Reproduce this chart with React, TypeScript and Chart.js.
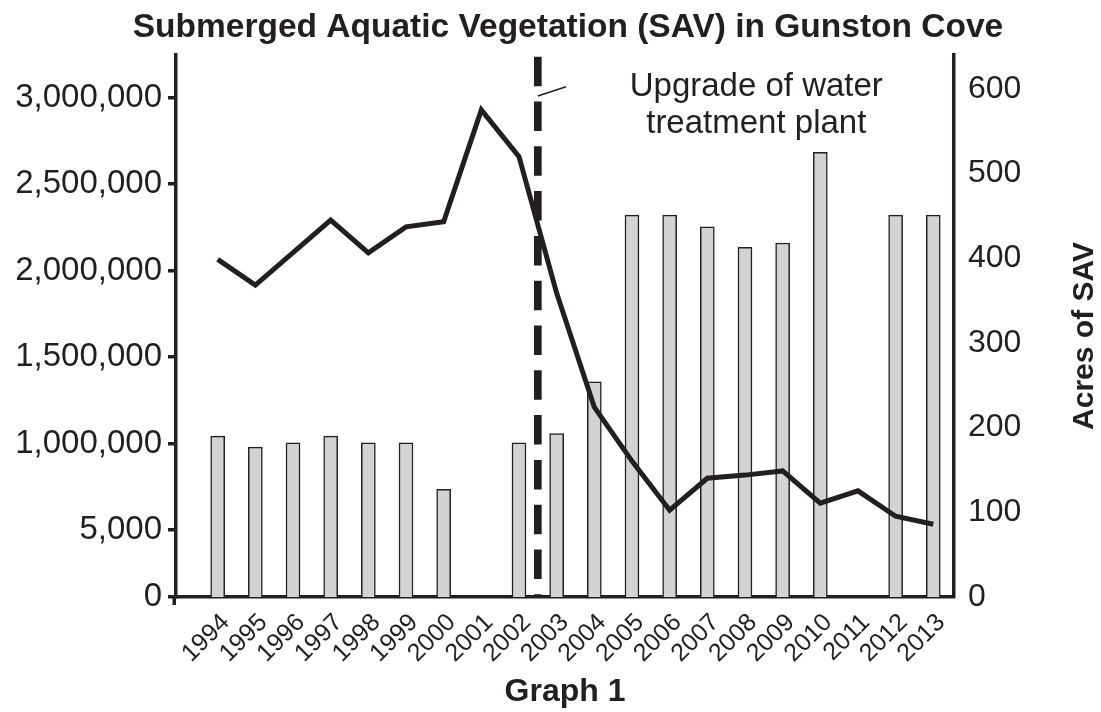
import { useEffect, useRef } from 'react';
import { Chart, registerables } from 'chart.js';

Chart.register(...registerables);

const INK = '#231f20';
const BAR_FILL = '#d1d3d4';
const FONT = '"Liberation Sans", Arial, Helvetica, sans-serif';

const chartTitle = 'Submerged Aquatic Vegetation (SAV) in Gunston Cove';
const rightAxisTitle = 'Acres of SAV';

const years = ['1994', '1995', '1996', '1997', '1998', '1999', '2000', '2001', '2002', '2003',
  '2004', '2005', '2006', '2007', '2008', '2009', '2010', '2011', '2012', '2013'];

// Acres of SAV (bars, right axis)
const savAcres: (number | null)[] = [190, 177, 182, 190, 182, 182, 127, null, 182, 193,
  254, 451, 451, 437, 413, 418, 525, null, 451, 451];

// Left-axis series (line)
const leftSeries: number[] = [2065000, 1916000, 2104000, 2292000, 2103000, 2253000, 2282000, 2929000, 2659000, 1870000,
  1210000, 898000, 614000, 799000, 817000, 841000, 655000, 726000, 579000, 533000];

// Left axis as printed: the bottom tick reads "0" and the second reads "5,000"
const leftTickValues = [112000, 500000, 1000000, 1500000, 2000000, 2500000, 3000000];
const leftTickLabels = ['0', '5,000', '1,000,000', '1,500,000', '2,000,000', '2,500,000', '3,000,000'];
const LEFT_MIN = 112000;
const LEFT_MAX = 3247000;

const rightTickValues = [0, 100, 200, 300, 400, 500, 600];
const RIGHT_MAX = 640;

const X_MIN = -1.107;
const X_MAX = 19.55;

const UPGRADE_AT = 8.5; // between 2002 and 2003
const annotationLines = ['Upgrade of water', 'treatment plant'];

const overlayPlugin = {
  id: 'overlay',
  afterDraw(chart: any) {
    const { ctx, chartArea } = chart;
    ctx.save();
    ctx.fillStyle = INK;
    ctx.font = `bold 33.5px ${FONT}`;
    ctx.textAlign = 'center';
    ctx.textBaseline = 'middle';
    ctx.fillText(chartTitle, (chartArea.left + chartArea.right) / 2 + 3, 28);
    ctx.restore();
  },
  afterDatasetsDraw(chart: any) {
    const { ctx, chartArea, scales } = chart;
    const xs = scales.x;
    const yr = scales.yRight;
    const x = xs.getPixelForValue(UPGRADE_AT);
    ctx.save();
    // dashed vertical line
    ctx.strokeStyle = INK;
    ctx.lineWidth = 7.7;
    ctx.lineCap = 'butt';
    ctx.setLineDash([29.5, 15.3]);
    ctx.beginPath();
    ctx.moveTo(x, chartArea.top + 1.7);
    ctx.lineTo(x, chartArea.bottom);
    ctx.stroke();
    // leader line
    ctx.setLineDash([]);
    ctx.lineWidth = 1.5;
    ctx.beginPath();
    ctx.moveTo(x, yr.getPixelForValue(591.5));
    ctx.lineTo(xs.getPixelForValue(9.25), yr.getPixelForValue(602.5));
    ctx.stroke();
    // annotation text
    ctx.fillStyle = INK;
    ctx.font = `33px ${FONT}`;
    ctx.textAlign = 'center';
    ctx.textBaseline = 'alphabetic';
    const tx = xs.getPixelForValue(14.3);
    ctx.fillText(annotationLines[0], tx, yr.getPixelForValue(591));
    ctx.fillText(annotationLines[1], tx, yr.getPixelForValue(548));
    // left axis stub below the x axis
    const la = scales.yLeft;
    ctx.lineWidth = 3.5;
    ctx.beginPath();
    ctx.moveTo(la.right - 1.75, chartArea.bottom);
    ctx.lineTo(la.right - 1.75, chartArea.bottom + 8);
    ctx.stroke();
    // right axis title
    ctx.font = `bold 30px ${FONT}`;
    ctx.translate(yr.right - 16, (chartArea.top + chartArea.bottom) / 2 + 10);
    ctx.rotate(-Math.PI / 2);
    ctx.textAlign = 'center';
    ctx.textBaseline = 'middle';
    ctx.fillText(rightAxisTitle, 0, 0);
    ctx.restore();
  },
};

export default function App() {
  const canvasRef = useRef<HTMLCanvasElement | null>(null);

  useEffect(() => {
    if (!canvasRef.current) return;
    const chart = new Chart(canvasRef.current, {
      type: 'bar',
      data: {
        datasets: [
          {
            type: 'line',
            label: 'Line',
            data: leftSeries.map((v, i) => ({ x: i, y: v })),
            yAxisID: 'yLeft',
            xAxisID: 'x',
            borderColor: INK,
            borderWidth: 5,
            pointRadius: 0,
            tension: 0,
            fill: false,
            borderJoinStyle: 'miter',
            order: 0,
          } as any,
          {
            type: 'bar',
            label: rightAxisTitle,
            data: savAcres.map((v, i) => ({ x: i, y: v })),
            yAxisID: 'yRight',
            xAxisID: 'x',
            backgroundColor: BAR_FILL,
            borderColor: INK,
            borderWidth: 1.5,
            barThickness: 14,
            order: 1,
          } as any,
        ],
      },
      options: {
        responsive: false,
        animation: false,
        layout: { padding: { left: 0, right: 0, top: 55, bottom: 0 } },
        plugins: {
          legend: { display: false },
          tooltip: { enabled: false },
          title: { display: false },
        },
        scales: {
          x: {
            type: 'linear',
            position: 'bottom',
            offset: false,
            min: X_MIN,
            max: X_MAX,
            afterBuildTicks: (s: any) => { s.ticks = years.map((_, i) => ({ value: i })); },
            afterFit: (s: any) => { s.height = 115; },
            grid: { display: false, drawTicks: false, offset: false },
            border: { display: true, color: INK, width: 3.5 },
            ticks: {
              autoSkip: false,
              minRotation: 45,
              maxRotation: 45,
              padding: 11,
              labelOffset: 8,
              color: INK,
              font: { family: FONT, size: 25 },
              callback: (_v: any, i: number) => years[i],
            },
            title: {
              display: true,
              text: 'Graph 1',
              color: INK,
              font: { family: FONT, size: 32, weight: 'bold' },
              padding: { top: 0, bottom: 1 },
            },
          },
          yLeft: {
            type: 'linear',
            position: 'left',
            min: LEFT_MIN,
            max: LEFT_MAX,
            afterBuildTicks: (s: any) => { s.ticks = leftTickValues.map((v) => ({ value: v })); },
            afterFit: (s: any) => { s.width = 176; },
            grid: {
              display: true,
              drawOnChartArea: false,
              drawTicks: true,
              tickLength: 8,
              tickWidth: 3.5,
              tickColor: INK,
              color: INK,
              lineWidth: 3.5,
            },
            border: { display: true, color: INK, width: 3.5 },
            ticks: {
              padding: 6,
              color: INK,
              font: { family: FONT, size: 33 },
              callback: (_v: any, i: number) => leftTickLabels[i],
            },
          },
          yRight: {
            type: 'linear',
            position: 'right',
            min: 0,
            max: RIGHT_MAX,
            afterBuildTicks: (s: any) => { s.ticks = rightTickValues.map((v) => ({ value: v })); },
            afterFit: (s: any) => { s.width = 147; },
            grid: { display: false, drawTicks: false },
            border: { display: true, color: INK, width: 3.5 },
            ticks: {
              padding: 14,
              color: INK,
              font: { family: FONT, size: 32 },
            },
          },
        },
      } as any,
      plugins: [overlayPlugin],
    });
    return () => chart.destroy();
  }, []);

  return (
    <div style={{ position: 'absolute', left: 0, top: 0, width: 1101, height: 712, background: '#fff' }}>
      <canvas ref={canvasRef} width={1101} height={712} style={{ width: 1101, height: 712, display: 'block' }} />
    </div>
  );
}
